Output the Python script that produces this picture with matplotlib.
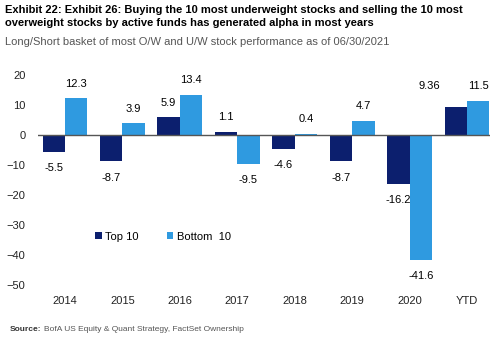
import numpy as np
import matplotlib
matplotlib.use('Agg')
import matplotlib.pyplot as plt

# Data
years = ['2014', '2015', '2016', '2017', '2018', '2019', '2020', 'YTD']
top10 = [-5.5, -8.7, 5.9, 1.1, -4.6, -8.7, -16.2, 9.36]
bottom10 = [12.3, 3.9, 13.4, -9.5, 0.4, 4.7, -41.6, 11.5]
top_labels = ['-5.5', '-8.7', '5.9', '1.1', '-4.6', '-8.7', '-16.2', '9.36']
bottom_labels = ['12.3', '3.9', '13.4', '-9.5', '0.4', '4.7', '-41.6', '11.5']

navy = '#0c1f6e'
light = '#2f9ae0'
plt.rcParams['font.family'] = ['Liberation Sans', 'DejaVu Sans']

fig = plt.figure(figsize=(5, 3.4), dpi=100)
ax = fig.add_axes([0.076, 0.162, 0.904, 0.617])

x = np.arange(len(years))
w = 0.39
ax.bar(x - w / 2, top10, w, color=navy, label='Top 10')
ax.bar(x + w / 2, bottom10, w, color=light, label='Bottom  10')

# value labels
for i in range(len(years)):
    for val, lab, dx in [(top10[i], top_labels[i], -w / 2), (bottom10[i], bottom_labels[i], w / 2)]:
        if i == 7 and dx < 0:
            # YTD top-10 label sits to the left, above
            ax.text(i - 0.65, val + 5.5, lab, ha='center', va='bottom', fontsize=8, clip_on=False)
            continue
        if val >= 0:
            ax.text(i + dx, val + 3.2, lab, ha='center', va='bottom', fontsize=8, clip_on=False)
        else:
            ax.text(i + dx, val - 3.8, lab, ha='center', va='top', fontsize=8, clip_on=False)

ax.axhline(0, color='#555555', lw=1)
ax.set_xlim(-0.47, 7.4)
ax.set_ylim(-50, 20)
ax.set_yticks([20, 10, 0, -10, -20, -30, -40, -50])
ax.set_xticks(x)
ax.set_xticklabels(years)
ax.tick_params(length=0, labelsize=8, colors='#222222')
ax.tick_params(axis='x', pad=8)
ax.tick_params(axis='y', pad=9)
for s in ax.spines.values():
    s.set_visible(False)

ax.legend(loc='center left', bbox_to_anchor=(0.105, 0.23), ncol=2, frameon=False,
          fontsize=8, handlelength=0.55, handleheight=0.55, handletextpad=0.3,
          columnspacing=2.6)

fig.text(0.01, 0.985, 'Exhibit 22: Exhibit 26: Buying the 10 most underweight stocks and selling the 10 most\n'
         'overweight stocks by active funds has generated alpha in most years',
         ha='left', va='top', fontsize=8, fontweight='bold', linespacing=1.4)
fig.text(0.01, 0.89, 'Long/Short basket of most O/W and U/W stock performance as of 06/30/2021',
         ha='left', va='top', fontsize=8, color='#555555')

src = fig.text(0.02, 0.02, 'Source:', ha='left', va='bottom', fontsize=6,
               fontweight='bold', color='#333333')
fig.canvas.draw()
bb = src.get_window_extent().transformed(fig.transFigure.inverted())
fig.text(bb.x1 + 0.004, 0.02, 'BofA US Equity & Quant Strategy, FactSet Ownership',
         ha='left', va='bottom', fontsize=6, color='#555555')

fig.savefig('out.png', dpi=100)
